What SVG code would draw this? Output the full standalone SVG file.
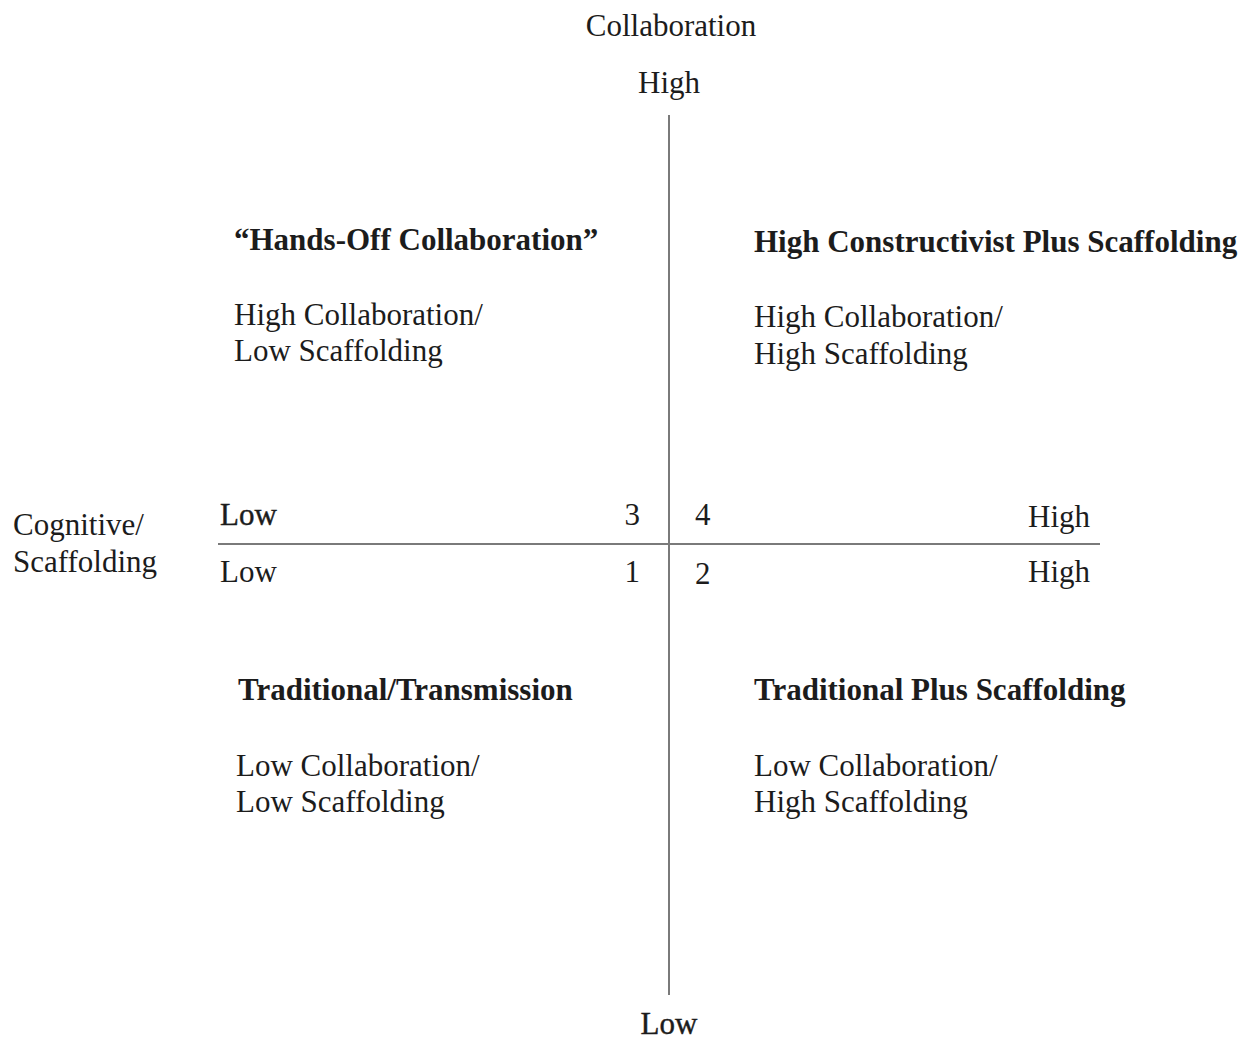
<svg xmlns="http://www.w3.org/2000/svg" width="1244" height="1040" viewBox="0 0 1244 1040">
<style>
text{font-family:"Liberation Serif","Times New Roman",serif;font-size:31px;fill:#1c1c1c}
.b{font-weight:bold}
.h{stroke:#1c1c1c;stroke-width:0.4px}
.c{text-anchor:middle}
.e{text-anchor:end}
.ax{stroke:#7a7a7a;stroke-width:2;fill:none}
</style>
<rect width="1244" height="1040" fill="#fff"/>
<g id="connectors">
<line class="ax" x1="669" y1="115" x2="669" y2="995"/>
<line class="ax" x1="218" y1="544" x2="1100" y2="544"/>
</g>
<g id="axis-collab">
<text class="c" x="671" y="36">Collaboration</text>
<text class="c" x="669" y="93">High</text>
<text class="c h" x="669" y="1034">Low</text>
</g>
<g id="axis-scaffold">
<text x="13" y="535">Cognitive/</text>
<text x="13" y="572">Scaffolding</text>
<text class="h" x="220" y="525">Low</text>
<text x="220" y="582">Low</text>
<text class="e" x="1090" y="527">High</text>
<text class="e" x="1090" y="582">High</text>
</g>
<g id="numbers">
<text class="e" x="640" y="525">3</text>
<text x="695" y="525">4</text>
<text class="e" x="640" y="582">1</text>
<text x="695" y="584">2</text>
</g>
<g id="q3">
<text class="b" x="234" y="250">“Hands-Off Collaboration”</text>
<text x="234" y="325">High Collaboration/</text>
<text x="234" y="361">Low Scaffolding</text>
</g>
<g id="q4">
<text class="b" x="754" y="252">High Constructivist Plus Scaffolding</text>
<text x="754" y="327">High Collaboration/</text>
<text x="754" y="364">High Scaffolding</text>
</g>
<g id="q1">
<text class="b" x="238" y="700">Traditional/Transmission</text>
<text x="236" y="776">Low Collaboration/</text>
<text x="236" y="812">Low Scaffolding</text>
</g>
<g id="q2">
<text class="b" x="754" y="700">Traditional Plus Scaffolding</text>
<text x="754" y="776">Low Collaboration/</text>
<text x="754" y="812">High Scaffolding</text>
</g>
</svg>
